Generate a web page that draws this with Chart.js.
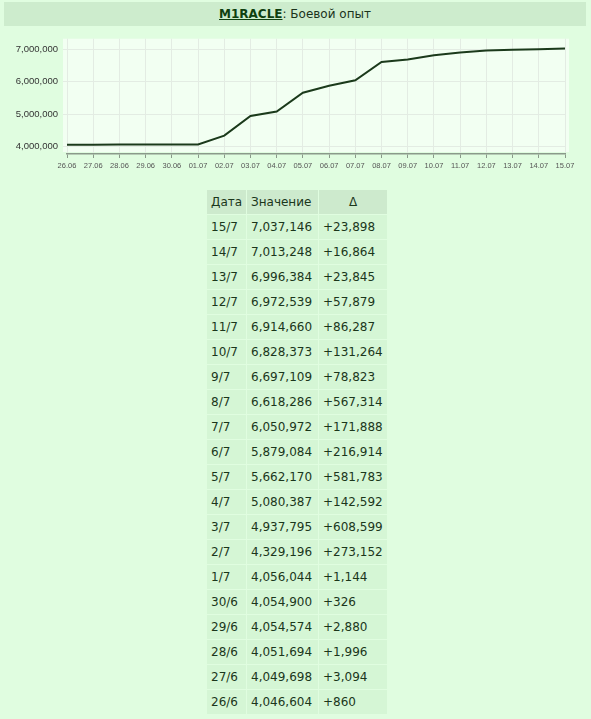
<!DOCTYPE html>
<html>
<head>
<meta charset="utf-8">
<script src="https://cdn.jsdelivr.net/npm/chart.js@4/dist/chart.umd.min.js"></script>
<style>
  body{margin:0;background:#e0fde0;width:591px;height:719px;overflow:hidden;font-family:"DejaVu Sans",Verdana,sans-serif;color:#1b361b;}
  #title{position:absolute;left:4px;top:2px;width:582px;height:24px;line-height:24px;background:#cdeccd;text-align:center;font-size:12px;color:#1b331b;}
  #title b{color:#0f3f0f;text-decoration:underline;}
  #wrap{position:absolute;left:0;top:28px;width:591px;height:148px;}
  #ops{position:absolute;left:206px;top:189px;border-collapse:separate;border-spacing:1px;table-layout:fixed;font-size:12px;}
  #ops td,#ops th{height:24px;padding:0 0 0 4px;text-align:left;font-weight:normal;white-space:nowrap;background:#d5f6d5;}
  #ops th{background:#cdeacd;}
  #ops th.c{text-align:center;padding:0;}
</style>
</head>
<body>
<div id="title"><b>M1RACLE</b>: Боевой опыт</div>
<div id="wrap"><canvas id="chart" width="591" height="148"></canvas></div>
<table id="ops">
  <colgroup><col style="width:39px"><col style="width:71px"><col style="width:68px"></colgroup>
  <thead><tr><th>Дата</th><th>Значение</th><th class="c">Δ</th></tr></thead>
  <tbody></tbody>
</table>
<script>
// === Dados ===
const dayLabels = ["26.06","27.06","28.06","29.06","30.06","01.07","02.07","03.07","04.07","05.07",
  "06.07","07.07","08.07","09.07","10.07","11.07","12.07","13.07","14.07","15.07"];
const tableDates = ["26/6","27/6","28/6","29/6","30/6","1/7","2/7","3/7","4/7","5/7",
  "6/7","7/7","8/7","9/7","10/7","11/7","12/7","13/7","14/7","15/7"];
const expValues = [4046604,4049698,4051694,4054574,4054900,4056044,4329196,4937795,5080387,5662170,
  5879084,6050972,6618286,6697109,6828373,6914660,6972539,6996384,7013248,7037146];
const expDeltas = [860,3094,1996,2880,326,1144,273152,608599,142592,581783,
  216914,171888,567314,78823,131264,86287,57879,23845,16864,23898];
const yTickValues = [4000000,5000000,6000000,7000000];

const fmt = n => n.toLocaleString("en-US");

// === Tabela (mais recente primeiro) ===
const tbody = document.querySelector("#ops tbody");
for(let i=expValues.length-1;i>=0;i--){
  const tr = document.createElement("tr");
  tr.innerHTML = `<td>${tableDates[i]}</td><td>${fmt(expValues[i])}</td><td>+${fmt(expDeltas[i])}</td>`;
  tbody.appendChild(tr);
}

// fundo da área do gráfico
const plotBg = {
  id:"plotBg",
  beforeDraw(chart){
    const a = chart.chartArea, ctx = chart.ctx;
    ctx.save();
    ctx.fillStyle = "#f2fff2";
    ctx.fillRect(a.left-4, a.top, a.right-a.left+8, a.bottom-a.top-2);
    ctx.restore();
  }
};

new Chart(document.getElementById("chart"),{
  type:"line",
  data:{labels:dayLabels,datasets:[{
    data:expValues,borderColor:"#1b3a1b",borderWidth:2,pointRadius:0,tension:0,fill:false
  }]},
  plugins:[plotBg],
  options:{
    responsive:false,animation:false,
    layout:{padding:{top:9,right:26,left:0,bottom:0}},
    plugins:{legend:{display:false},tooltip:{enabled:false}},
    scales:{
      x:{
        offset:false,
        afterFit(s){ s.height = 22; },
        grid:{color:"#e3ece3",tickLength:4,tickColor:"#8a9a8a"},
        border:{color:"#8a9a8a",width:1.5},
        ticks:{font:{family:"Liberation Sans",size:7.5},color:"#555",padding:3,maxRotation:0,autoSkip:false}
      },
      y:{
        min:3760000,max:7340000,
        afterFit(s){ s.width = 67; },
        afterBuildTicks(s){ s.ticks = yTickValues.map(v=>({value:v})); },
        grid:{color:"#e3ece3",tickLength:4},
        border:{display:false},
        ticks:{font:{family:"Liberation Sans",size:9.5},color:"#333",padding:5,callback:v=>fmt(v)}
      }
    }
  }
});
</script>
</body>
</html>
